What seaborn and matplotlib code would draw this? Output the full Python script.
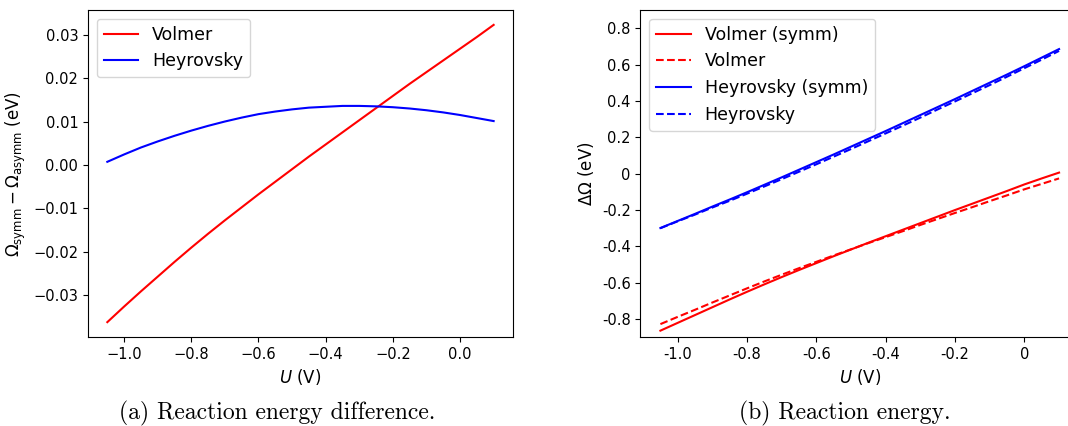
import numpy as np
import pandas as pd
import matplotlib
matplotlib.use("Agg")
import matplotlib.pyplot as plt
import matplotlib.ticker as mticker
import seaborn as sns

# potential grid (V)
U = [-1.05, -1.00, -0.95, -0.90, -0.85, -0.80, -0.75, -0.70, -0.65, -0.60, -0.55, -0.50,
     -0.45, -0.40, -0.35, -0.30, -0.25, -0.20, -0.15, -0.10, -0.05, 0.00, 0.05, 0.10]

# (a) symm - asymm difference (eV)
volmer_diff = [-0.0363, -0.0327, -0.0292, -0.0258, -0.0224, -0.0191, -0.0159, -0.0128,
               -0.0098, -0.0068, -0.0039, -0.0010, 0.0019, 0.0047, 0.0075, 0.0103,
               0.0131, 0.0159, 0.0187, 0.0214, 0.0241, 0.0268, 0.0295, 0.0323]
heyr_diff = [0.0007, 0.0024, 0.0040, 0.0054, 0.0067, 0.0079, 0.0090, 0.0100,
             0.0109, 0.0117, 0.0123, 0.0128, 0.0132, 0.0134, 0.0136, 0.0136,
             0.0135, 0.0133, 0.0130, 0.0126, 0.0121, 0.0115, 0.0108, 0.0101]

# (b) reaction energies (eV)
volmer_symm = [-0.865, -0.822, -0.779, -0.736, -0.693, -0.651, -0.610, -0.570,
               -0.531, -0.493, -0.455, -0.418, -0.381, -0.345, -0.309, -0.273,
               -0.237, -0.201, -0.166, -0.131, -0.096, -0.060, -0.027, 0.005]
volmer_asymm = [-0.829, -0.789, -0.750, -0.710, -0.671, -0.632, -0.594, -0.557,
                -0.521, -0.486, -0.451, -0.417, -0.383, -0.350, -0.317, -0.283,
                -0.250, -0.217, -0.185, -0.152, -0.120, -0.087, -0.057, -0.027]
heyr_symm = [-0.300, -0.261, -0.222, -0.182, -0.143, -0.103, -0.062, -0.021,
             0.021, 0.063, 0.105, 0.148, 0.191, 0.234, 0.278, 0.322,
             0.366, 0.410, 0.455, 0.500, 0.545, 0.591, 0.638, 0.685]
heyr_asymm = [-0.301, -0.263, -0.226, -0.187, -0.150, -0.111, -0.071, -0.031,
              0.010, 0.051, 0.093, 0.135, 0.178, 0.221, 0.264, 0.308,
              0.353, 0.397, 0.442, 0.487, 0.533, 0.580, 0.627, 0.675]

plt.rcParams["font.family"] = ["DejaVu Sans"]
plt.rcParams["font.size"] = 10.5

fig = plt.figure(figsize=(10.68, 4.26), dpi=100)
ax1 = fig.add_axes([0.0824, 0.2089, 0.3979, 0.7676])
ax2 = fig.add_axes([0.5997, 0.2089, 0.4106, 0.7676])  # right edge runs past the image

# ---- (a) difference ----
sns.lineplot(x=U, y=volmer_diff, color="red", lw=1.5, label="Volmer", ax=ax1)
sns.lineplot(x=U, y=heyr_diff, color="blue", lw=1.5, label="Heyrovsky", ax=ax1)
ax1.set_xlabel("$U$ (V)", fontsize=12)
ax1.set_ylabel(r"$\Omega_{\rm symm} - \Omega_{\rm asymm}$ (eV)", fontsize=12)
ax1.set_yticks([-0.03, -0.02, -0.01, 0.0, 0.01, 0.02, 0.03])
ax1.legend(loc="upper left", fontsize=12.5)

# ---- (b) reaction energy ----
sns.lineplot(x=U, y=volmer_symm, color="red", lw=1.5, label="Volmer (symm)", ax=ax2)
sns.lineplot(x=U, y=volmer_asymm, color="red", lw=1.5, ls="--", label="Volmer", ax=ax2)
sns.lineplot(x=U, y=heyr_symm, color="blue", lw=1.5, label="Heyrovsky (symm)", ax=ax2)
sns.lineplot(x=U, y=heyr_asymm, color="blue", lw=1.5, ls="--", label="Heyrovsky", ax=ax2)
ax2.set_ylim(-0.9, 0.9)
ax2.set_xlabel("$U$ (V)", fontsize=12)
ax2.set_ylabel(r"$\Delta\Omega$ (eV)", fontsize=12)
fmt = mticker.FuncFormatter(lambda v, p: "0" if abs(v) < 1e-9 else "%.1f" % v)
ax2.xaxis.set_major_formatter(fmt)
ax2.yaxis.set_major_formatter(fmt)
ax2.spines["right"].set_visible(False)
ax2.legend(loc="upper left", fontsize=12.5)

fig.text(0.2594, 0.0305, "(a) Reaction energy difference.", ha="center", va="center",
         family="cmr10", fontsize=17)
fig.text(0.7907, 0.0305, "(b) Reaction energy.", ha="center", va="center",
         family="cmr10", fontsize=17)

fig.savefig("out.png", dpi=100)
